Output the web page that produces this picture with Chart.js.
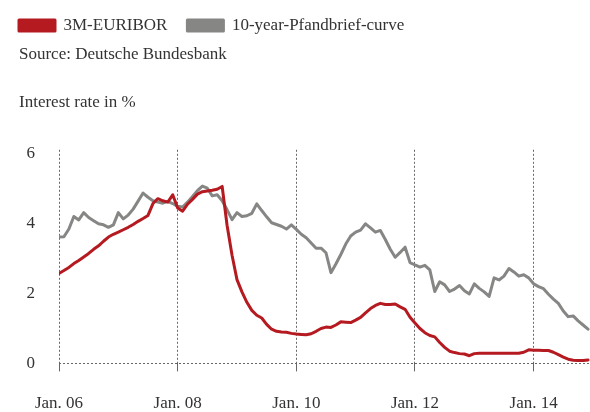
<!DOCTYPE html>
<html>
<head>
<meta charset="utf-8">
<script src="https://cdn.jsdelivr.net/npm/chart.js@4/dist/chart.umd.min.js"></script>
<style>
  html, body { margin: 0; padding: 0; background: #fff; }
  #wrap { width: 590px; height: 412px; position: relative; }
</style>
</head>
<body>
<div id="wrap"><canvas id="chart"></canvas></div>
<script>
// monthly values, Jan 2006 .. Dec 2014
const euribor = [
  2.58, 2.66, 2.75, 2.86, 2.95, 3.05, 3.15, 3.27, 3.37, 3.50, 3.62, 3.70,
  3.76, 3.83, 3.90, 3.98, 4.07, 4.15, 4.24, 4.58, 4.72, 4.66, 4.62, 4.83,
  4.45, 4.36, 4.56, 4.70, 4.85, 4.92, 4.94, 4.96, 4.99, 5.07, 3.95, 3.10,
  2.40, 2.05, 1.75, 1.52, 1.38, 1.30, 1.12, 0.98, 0.92, 0.90, 0.89, 0.86,
  0.84, 0.83, 0.82, 0.85, 0.92, 1.00, 1.04, 1.03, 1.10, 1.19, 1.18, 1.17,
  1.24, 1.32, 1.45, 1.57, 1.66, 1.72, 1.69, 1.69, 1.70, 1.62, 1.55, 1.32,
  1.16, 1.00, 0.88, 0.80, 0.76, 0.60, 0.46, 0.35, 0.31, 0.28, 0.27, 0.22,
  0.28, 0.29, 0.29, 0.29, 0.29, 0.29, 0.29, 0.29, 0.29, 0.29, 0.32, 0.39,
  0.38, 0.38, 0.37, 0.37, 0.32, 0.25, 0.18, 0.12, 0.09, 0.08, 0.08, 0.10
];
const pfandbrief = [
  3.62, 3.63, 3.85, 4.21, 4.11, 4.32, 4.18, 4.09, 4.00, 3.97, 3.90, 3.97,
  4.32, 4.14, 4.25, 4.42, 4.65, 4.88, 4.76, 4.66, 4.62, 4.59, 4.64, 4.58,
  4.50, 4.48, 4.62, 4.78, 4.95, 5.08, 5.02, 4.80, 4.83, 4.66, 4.40, 4.12,
  4.32, 4.21, 4.23, 4.30, 4.57, 4.38, 4.20, 4.03, 3.98, 3.93, 3.85, 3.97,
  3.84, 3.70, 3.60, 3.45, 3.30, 3.30, 3.17, 2.60, 2.85, 3.12, 3.42, 3.65,
  3.76, 3.82, 4.00, 3.88, 3.76, 3.81, 3.55, 3.27, 3.04, 3.18, 3.33, 2.89,
  2.82, 2.76, 2.81, 2.68, 2.06, 2.34, 2.25, 2.06, 2.13, 2.23, 2.08, 1.99,
  2.28, 2.15, 2.05, 1.92, 2.45, 2.39, 2.50, 2.72, 2.62, 2.50, 2.54, 2.45,
  2.28, 2.20, 2.14, 1.98, 1.84, 1.72, 1.50, 1.34, 1.36, 1.22, 1.10, 0.98
];
const tickMonths = [0, 24, 48, 72, 96];
const tickLabels = ['Jan. 06', 'Jan. 08', 'Jan. 10', 'Jan. 12', 'Jan. 14'];
const yTicks = [0, 2, 4, 6];

const RED = '#b41a20';
const GREY = '#868684';
const TEXT = '#333333';
const FONT = 'Liberation Serif';

const toPoints = arr => arr.map((v, i) => ({ x: i, y: v }));

// legend should start flush with the texts below it
const legendShift = {
  id: 'legendShift',
  afterLayout(chart) {
    chart.legend.left -= 20;
    chart.legend.top -= 3;
  }
};

new Chart(document.getElementById('chart'), {
  type: 'line',
  data: {
    datasets: [
      {
        label: '3M-EURIBOR',
        data: toPoints(euribor),
        borderColor: RED,
        backgroundColor: RED,
        borderWidth: 3,
        pointRadius: 0,
        order: 0,
      },
      {
        label: '10-year-Pfandbrief-curve',
        data: toPoints(pfandbrief),
        borderColor: GREY,
        backgroundColor: GREY,
        borderWidth: 3,
        pointRadius: 0,
        order: 1,
      },
    ],
  },
  options: {
    responsive: true,
    maintainAspectRatio: false,
    animation: false,
    layout: { padding: { left: 19, right: 0, top: 0, bottom: 0 } },
    plugins: {
      legend: {
        position: 'top',
        align: 'start',
        weight: 3000,
        maxHeight: 44,
        labels: {
          boxWidth: 36,
          boxHeight: 11,
          padding: 20,
          color: TEXT,
          font: { family: FONT, size: 17 },
        },
      },
      title: {
        display: true,
        text: 'Source: Deutsche Bundesbank',
        align: 'start',
        color: TEXT,
        font: { family: FONT, size: 17, weight: 'normal' },
        padding: { top: 0, bottom: 0 },
      },
      subtitle: {
        display: true,
        text: 'Interest rate in %',
        align: 'start',
        color: TEXT,
        font: { family: FONT, size: 17 },
        padding: { top: 28, bottom: 37 },
      },
      tooltip: { enabled: false },
    },
    elements: { line: { borderJoinStyle: 'round', borderCapStyle: 'round', tension: 0 } },
    scales: {
      x: {
        type: 'linear',
        min: 0,
        max: 107.4,
        afterBuildTicks: scale => {
          scale.ticks = tickMonths.map(v => ({ value: v }));
        },
        afterFit: scale => {
          scale.height = 48.6;
        },
        ticks: {
          padding: 22,
          color: TEXT,
          font: { family: FONT, size: 17 },
          maxRotation: 0,
          callback: value => tickLabels[tickMonths.indexOf(value)],
        },
        grid: {
          color: '#666',
          lineWidth: 1,
          tickLength: 8,
          drawTicks: true,
        },
        border: { display: false, dash: [2, 2] },
      },
      y: {
        min: 0,
        max: 6.12,
        afterBuildTicks: scale => {
          scale.ticks = yTicks.map(v => ({ value: v }));
        },
        afterFit: scale => {
          scale.width = 40;
        },
        ticks: {
          padding: 24,
          color: TEXT,
          font: { family: FONT, size: 17 },
        },
        grid: {
          color: ctx => (ctx.tick && ctx.tick.value === 0 ? '#666' : 'transparent'),
          drawTicks: false,
        },
        border: { display: false, dash: [2, 2] },
      },
    },
  },
  plugins: [legendShift],
});
</script>
</body>
</html>
